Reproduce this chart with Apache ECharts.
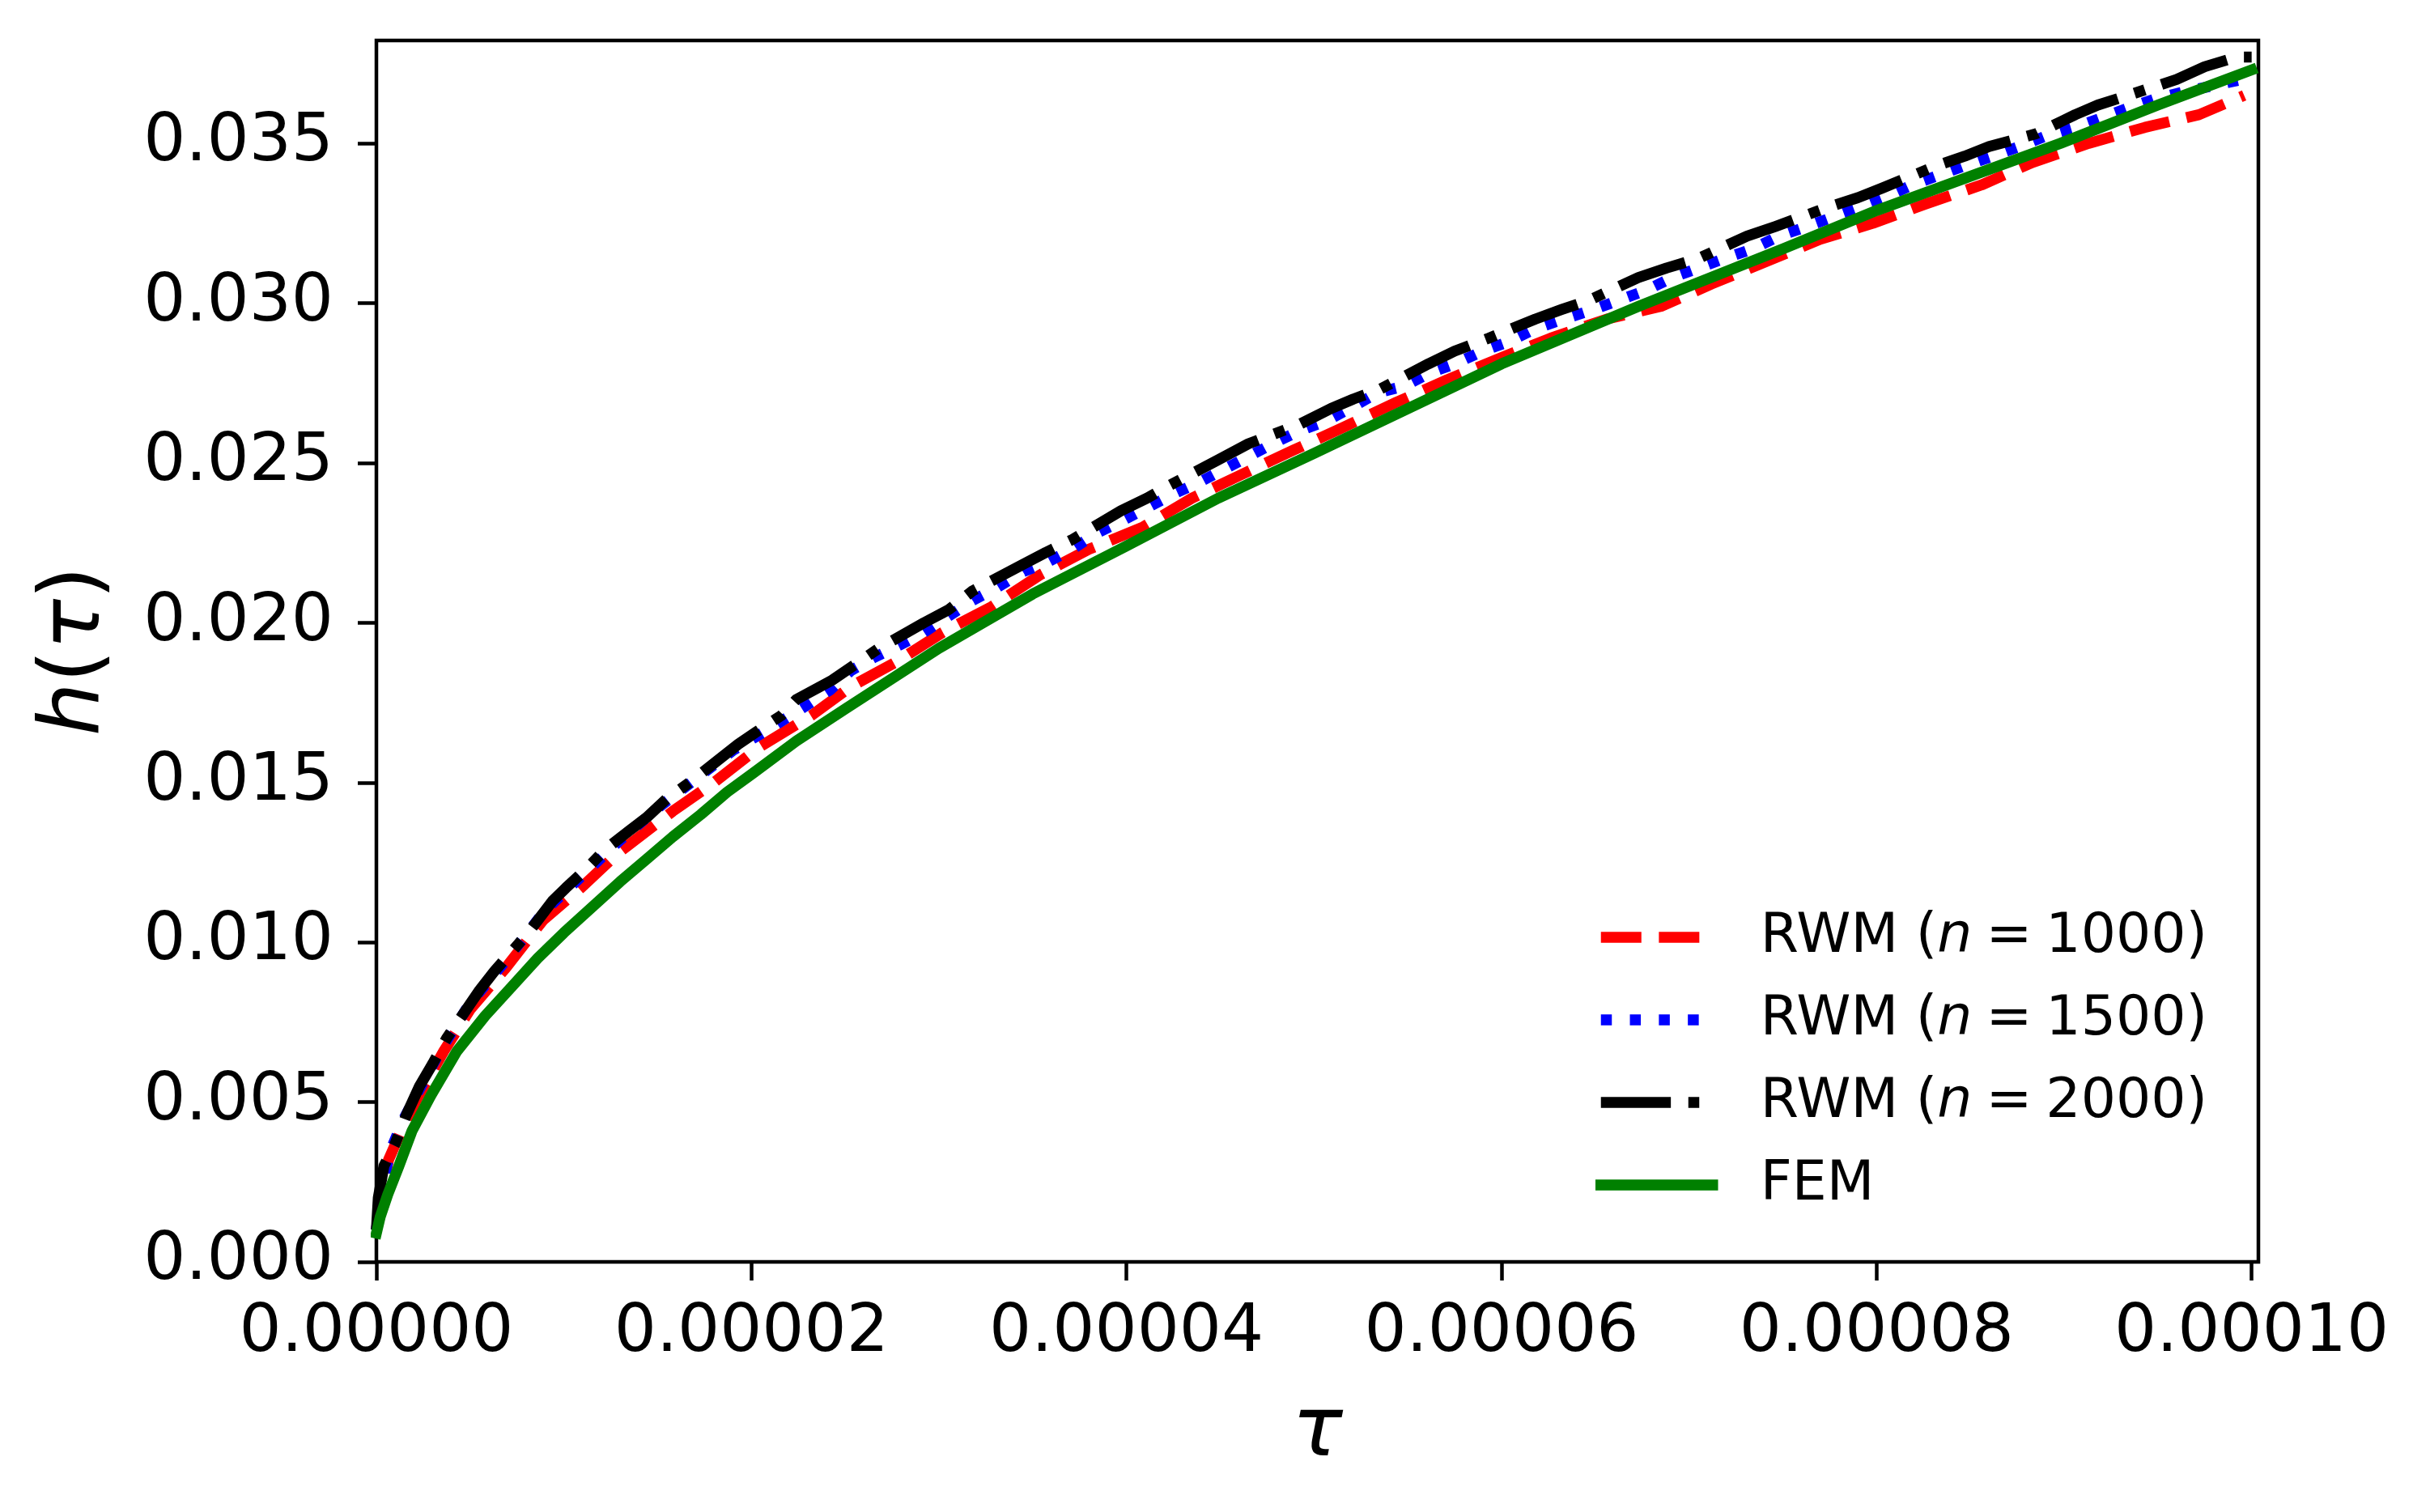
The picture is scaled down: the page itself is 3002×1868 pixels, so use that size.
<!DOCTYPE html>
<html><head><meta charset="utf-8">
<script src="https://cdn.jsdelivr.net/npm/echarts@6/dist/echarts.min.js"></script>
<style>html,body{margin:0;padding:0;background:#fff}#c{width:3002px;height:1868px}</style>
</head><body><div id="c"></div>
<script>
// ---- data (tau values, h values) ----
const tauFEM = [0,0.02e-5,0.06e-5,0.12e-5,0.19e-5,0.29e-5,0.43e-5,0.58e-5,0.72e-5,0.86e-5,1.0e-5,1.15e-5,1.3e-5,1.44e-5,1.58e-5,1.73e-5,1.87e-5,2.01e-5,2.24e-5,2.5e-5,3.0e-5,3.5e-5,4.0e-5,4.49e-5,5.0e-5,5.5e-5,6.0e-5,6.73e-5,7.5e-5,8.0e-5,8.98e-5,9.5e-5,10.0e-5];
const hFEM = [0.0009,0.0014,0.0021,0.0030,0.0041,0.0052,0.0066,0.0077,0.0086,0.0095,0.0103,0.0111,0.0119,0.0126,0.0133,0.0140,0.0147,0.0153,0.0163,0.0173,0.0192,0.0209,0.0224,0.0239,0.0253,0.0267,0.0281,0.0299,0.0317,0.0329,0.0350,0.0362,0.0373];

const tauN1000 = [0,0.02e-5,0.065e-5,0.14e-5,0.216e-5,0.36e-5,0.50e-5,0.69e-5,0.89e-5,1.09e-5,1.29e-5,1.58e-5,1.80e-5,2.04e-5,2.32e-5,2.53e-5,2.78e-5,3.02e-5,3.28e-5,3.54e-5,3.80e-5,4.09e-5,4.35e-5,4.60e-5,4.89e-5,5.15e-5,5.44e-5,5.71e-5,6.00e-5,6.26e-5,6.56e-5,6.85e-5,7.12e-5,7.41e-5,7.70e-5,7.98e-5,8.26e-5,8.56e-5,8.83e-5,9.13e-5,9.43e-5,9.72e-5,9.96e-5];
const hN1000 = [0.0010,0.0019,0.0032,0.0042,0.0051,0.0066,0.0079,0.0092,0.0107,0.0117,0.0128,0.0141,0.0150,0.0161,0.0171,0.0180,0.0188,0.0197,0.0205,0.0215,0.0223,0.0230,0.0239,0.0246,0.0254,0.0261,0.0269,0.0276,0.0283,0.0289,0.0295,0.0299,0.0306,0.0313,0.0320,0.0325,0.0331,0.0337,0.0344,0.0350,0.0355,0.0359,0.0365];

const tauN1500 = [0,0.02e-5,0.07e-5,0.14e-5,0.22e-5,0.35e-5,0.50e-5,0.70e-5,0.90e-5,1.10e-5,1.30e-5,1.50e-5,1.70e-5,1.90e-5,2.10e-5,2.29e-5,2.42e-5,2.53e-5,2.65e-5,2.79e-5,2.92e-5,3.05e-5,3.18e-5,3.31e-5,3.45e-5,3.58e-5,3.71e-5,3.84e-5,3.98e-5,4.11e-5,4.24e-5,4.39e-5,4.52e-5,4.65e-5,4.78e-5,4.92e-5,5.06e-5,5.19e-5,5.34e-5,5.48e-5,5.61e-5,5.75e-5,5.90e-5,6.04e-5,6.18e-5,6.33e-5,6.49e-5,6.63e-5,6.77e-5,6.91e-5,7.05e-5,7.19e-5,7.34e-5,7.48e-5,7.63e-5,7.77e-5,7.91e-5,8.04e-5,8.19e-5,8.33e-5,8.47e-5,8.62e-5,8.76e-5,8.89e-5,9.06e-5,9.20e-5,9.34e-5,9.49e-5,9.63e-5,9.79e-5,9.95e-5];
const hN1500 = [0.0010,0.0020,0.0034,0.0044,0.0053,0.0067,0.0081,0.0095,0.0110,0.0121,0.0132,0.0142,0.0151,0.0160,0.0167,0.0174,0.0179,0.0185,0.0189,0.0193,0.0197,0.0202,0.0207,0.0211,0.0216,0.0219,0.0223,0.0228,0.0232,0.0236,0.0240,0.0244,0.0248,0.0252,0.0256,0.0260,0.0263,0.0267,0.0272,0.0274,0.0278,0.0281,0.0285,0.0288,0.0292,0.0295,0.0298,0.0301,0.0304,0.0308,0.0311,0.0314,0.0317,0.0321,0.0324,0.0327,0.0330,0.0333,0.0337,0.0340,0.0343,0.0346,0.0349,0.0352,0.0355,0.0358,0.0361,0.0364,0.0366,0.0368,0.0370];

const tauN2000 = [0,0.01e-5,0.04e-5,0.10e-5,0.16e-5,0.23e-5,0.30e-5,0.375e-5,0.445e-5,0.55e-5,0.63e-5,0.72e-5,0.81e-5,0.94e-5,1.01e-5,1.12e-5,1.22e-5,1.35e-5,1.44e-5,1.55e-5,1.67e-5,1.80e-5,1.93e-5,2.03e-5,2.16e-5,2.24e-5,2.43e-5,2.68e-5,2.92e-5,3.05e-5,3.18e-5,3.44e-5,3.57e-5,3.71e-5,3.97e-5,4.11e-5,4.23e-5,4.49e-5,4.65e-5,4.92e-5,5.09e-5,5.21e-5,5.35e-5,5.61e-5,5.75e-5,5.93e-5,6.18e-5,6.32e-5,6.47e-5,6.73e-5,6.88e-5,7.05e-5,7.31e-5,7.46e-5,7.74e-5,7.90e-5,8.03e-5,8.32e-5,8.47e-5,8.60e-5,8.85e-5,8.99e-5,9.06e-5,9.18e-5,9.34e-5,9.60e-5,9.75e-5,9.92e-5,10.0e-5];
const hN2000 = [0.0010,0.0020,0.0030,0.0037,0.0046,0.0055,0.0062,0.0070,0.0076,0.0085,0.0091,0.0097,0.0103,0.0113,0.0117,0.0123,0.0129,0.0135,0.0139,0.0145,0.0150,0.0156,0.0162,0.0166,0.0171,0.0176,0.0182,0.0192,0.0200,0.0204,0.0210,0.0218,0.0222,0.0226,0.0235,0.0239,0.0243,0.0251,0.0256,0.0262,0.0267,0.0270,0.0273,0.0281,0.0285,0.0289,0.0295,0.0298,0.0301,0.0308,0.0311,0.0314,0.0321,0.0324,0.0330,0.0333,0.0336,0.0343,0.0346,0.0349,0.0353,0.0357,0.0359,0.0362,0.0365,0.0370,0.0374,0.0377,0.0377];

const xTicks = [0, 2e-5, 4e-5, 6e-5, 8e-5, 1e-4];
const yTicks = [0, 0.005, 0.010, 0.015, 0.020, 0.025, 0.030, 0.035];
const legendLabels = {
  'n1000': 'RWM ({it|n}\u2005=\u20051000)',
  'n1500': 'RWM ({it|n}\u2005=\u20051500)',
  'n2000': 'RWM ({it|n}\u2005=\u20052000)',
  'FEM': 'FEM'
};

// ---- styles ----
const FONT = 'DejaVu Sans';
const LW = 13.5;
const styles = {
  n1000: {width: LW, color: '#ff0000', type: [50, 21.6], cap: 'butt', join: 'round'},
  n1500: {width: LW, color: '#0000ff', type: [13.5, 22.3], cap: 'butt', join: 'round'},
  n2000: {width: LW, color: '#000000', type: [86.4, 21.6, 13.5, 21.6], cap: 'butt', join: 'round'},
  FEM:   {width: LW, color: '#008000', type: 'solid', cap: 'square', join: 'round'}
};
const pairs = (t, h) => t.map((v, i) => [v, h[i]]);
const chart = echarts.init(document.getElementById('c'), null, {renderer: 'canvas'});
const tickStyle = {show: true, inside: false, length: 23, lineStyle: {width: 4.5, color: '#000'}};
const mkSeries = (name, t, h) => ({name, type: 'line', symbol: 'none', showSymbol: false, data: pairs(t, h),
  color: styles[name].color, lineStyle: styles[name]});
const legendItem = name => ({name, lineStyle: Object.assign({opacity: 1}, styles[name]), itemStyle: {opacity: 0, color: 'transparent', borderWidth: 0}});
chart.setOption({
  animation: false,
  backgroundColor: '#fff',
  grid: {left: 465, right: 212, top: 50, bottom: 309, show: true, borderColor: '#000', borderWidth: 4.5, backgroundColor: 'transparent'},
  xAxis: {
    type: 'value', min: 0, max: 1.0036e-4,
    axisLine: {show: false}, splitLine: {show: false},
    axisTick: Object.assign({customValues: xTicks}, tickStyle),
    axisLabel: {customValues: xTicks, formatter: v => v.toFixed(5), fontSize: 82, fontFamily: FONT, color: '#000', margin: 48},
    name: '{it|τ}', nameLocation: 'middle', nameGap: 160,
    nameTextStyle: {fontSize: 104, fontFamily: FONT, color: '#000', rich: {it: {fontSize: 104, fontStyle: 'italic', fontFamily: FONT, color: '#000'}}}
  },
  yAxis: {
    type: 'value', min: 0, max: 0.03822,
    axisLine: {show: false}, splitLine: {show: false},
    axisTick: Object.assign({customValues: yTicks}, tickStyle),
    axisLabel: {customValues: yTicks, formatter: v => v.toFixed(3), fontSize: 82, fontFamily: FONT, color: '#000', margin: 53},
    name: '{it|h}({it|τ})', nameLocation: 'middle', nameGap: 318,
    nameTextStyle: {fontSize: 104, fontFamily: FONT, color: '#000', rich: {it: {fontSize: 104, fontStyle: 'italic', fontFamily: FONT, color: '#000'}}}
  },
  legend: {
    orient: 'vertical', left: 1966, top: 1113, itemWidth: 138, itemHeight: 14, itemGap: 22,
    selectedMode: false,
    data: ['n1000', 'n1500', 'n2000', 'FEM'].map(legendItem),
    formatter: n => legendLabels[n],
    textStyle: {fontFamily: FONT, fontSize: 68, color: '#000', lineHeight: 80, padding: [0, 0, 0, 54],
      rich: {it: {fontStyle: 'italic', fontSize: 68, fontFamily: FONT, color: '#000'}}}
  },
  series: [
    mkSeries('n1000', tauN1000, hN1000),
    mkSeries('n1500', tauN1500, hN1500),
    mkSeries('n2000', tauN2000, hN2000),
    mkSeries('FEM', tauFEM, hFEM)
  ]
});
</script></body></html>
